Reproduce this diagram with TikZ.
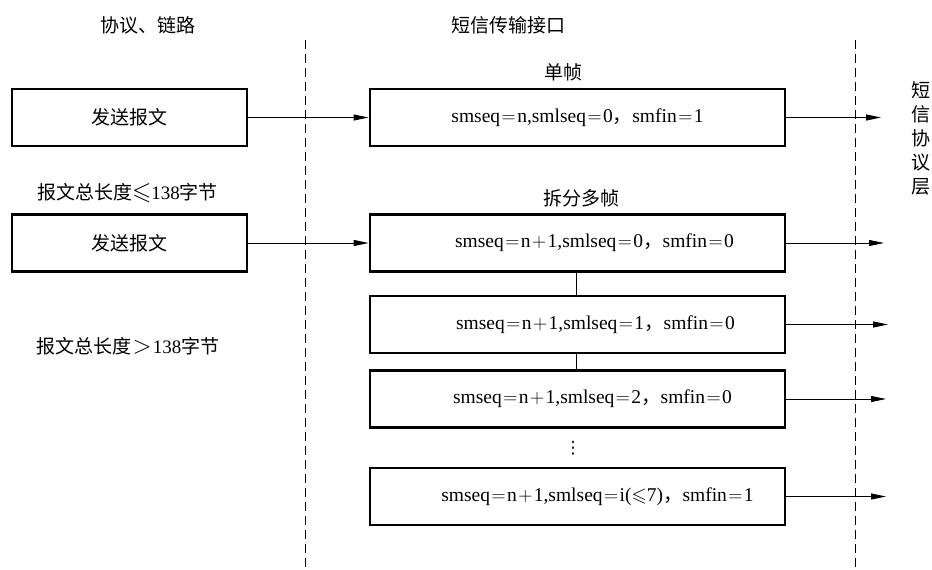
\RequirePackage{fix-cm}
\documentclass[tikz,border=0pt]{standalone}
\usepackage{fontspec}
\usepackage{amssymb}
\setmainfont{Liberation Serif}
\newfontfamily\cjk{Noto Sans CJK SC}
\newfontfamily\symf{DejaVu Sans}
\usetikzlibrary{arrows.meta}
% wide relation and operator signs used in the frame fields
\newcommand{\Eq}{\kern1.5pt$=$\kern1.5pt}
\newcommand{\Pl}{\kern1.5pt$+$\kern1.5pt}
\newcommand{\Cm}{{\cjk ，}}
% full-width relation signs in the length captions
\newcommand{\bigrel}[1]{{\fontsize{25}{25}\selectfont$#1$}}
\begin{document}
\begin{tikzpicture}[x=1pt,y=-1pt,
  box/.style={draw,line width=2.8pt,minimum width=235pt,minimum height=57pt,inner sep=0pt},
  wide/.style={box,minimum width=415pt},
  zh/.style={font=\fontsize{19}{22}\selectfont\cjk},
  field/.style={font=\fontsize{19.5}{22}\selectfont},
  flow/.style={line width=0.9pt,-{Triangle[length=15pt,width=6pt]}},
  link/.style={line width=0.9pt},
  sep/.style={line width=0.9pt,dash pattern=on 9pt off 5pt}]
\useasboundingbox (0,0) rectangle (932,570);

% layer boundaries
\coordinate (d1t) at (305,40);  \coordinate (d1b) at (305,570);
\coordinate (d2t) at (855,40);  \coordinate (d2b) at (855,570);
\draw[sep] (d1t) -- (d1b);
\draw[sep] (d2t) -- (d2b);

% column headings
\node[zh] (hLeft) at (148,25) {协议、链路};
\node[zh] (hMid) at (508,25) {短信传输接口};
\node[zh,font=\fontsize{19}{24}\selectfont\cjk,align=center] (hRight) at (921,138) {短\\信\\协\\议\\层};

% sending side
\node[box,zh] (s1) at (129.5,117.5) {发送报文};
\node[box,zh] (s2) at (129.5,243) {发送报文};
\node[zh] (c1) at (127.5,193) {报文总长度\bigrel{\leqslant}{\rmfamily 138}字节};
\node[zh] (c2) at (128,346) {报文总长度\kern1pt\bigrel{>}\kern1pt{\rmfamily 138}字节};

% frames
\node[zh] (tSingle) at (563,72) {单帧};
\node[zh] (tMulti) at (581,198) {拆分多帧};
\node[wide,field] (fA) at (577.5,117.5) {smseq\Eq n,smlseq\Eq 0\Cm smfin\Eq 1};
\node[wide,field] (fB) at (577.5,243) {\hspace*{34pt}smseq\Eq n\Pl 1,smlseq\Eq 0\Cm smfin\Eq 0};
\node[wide,field] (fC) at (577.5,324.5) {\hspace*{36pt}smseq\Eq n\Pl 1,smlseq\Eq 1\Cm smfin\Eq 0};
\node[wide,field] (fD) at (577.5,399) {\hspace*{30pt}smseq\Eq n\Pl 1,smlseq\Eq 2\Cm smfin\Eq 0};
\node[wide,field] (fE) at (577.5,496.5) {\hspace*{40pt}smseq\Eq n\Pl 1,smlseq\Eq i($\leqslant$7)\Cm smfin\Eq 1};
\node[font=\fontsize{17}{20}\selectfont\symf] (dots) at (573,448) {⋮};

% chain of split frames
\coordinate (spine) at (576,0);
\draw[link] (fB.south -| spine) -- (fC.north -| spine);
\draw[link] (fC.south -| spine) -- (fD.north -| spine);

% hand-over arrows
\draw[flow] (s1.east) -- (fA.west);
\draw[flow] (s2.east) -- (fB.west);
\coordinate (oA) at (881,117.5);
\coordinate (oB) at (884,243);
\coordinate (oC) at (888,324.5);
\coordinate (oD) at (886,399);
\coordinate (oE) at (886,496.5);
\draw[flow] (fA.east) -- (oA);
\draw[flow] (fB.east) -- (oB);
\draw[flow] (fC.east) -- (oC);
\draw[flow] (fD.east) -- (oD);
\draw[flow] (fE.east) -- (oE);
\end{tikzpicture}
\end{document}
